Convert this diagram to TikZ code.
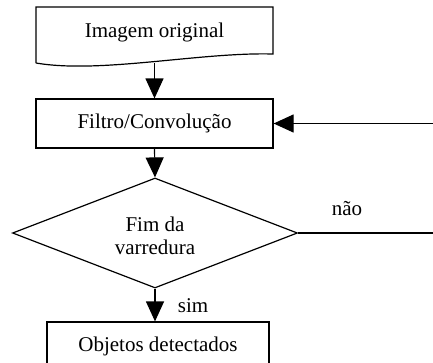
\documentclass[tikz,border=0pt]{standalone}
\usepackage{fontspec}
\setmainfont{Liberation Serif}
\usetikzlibrary{arrows.meta,shapes.geometric}

\tikzset{
  caixa/.style={draw, line width=1.2pt, rectangle, inner sep=0pt},
  seta/.style={line width=1.2pt, -{Triangle[length=20pt,width=18pt]}},
  linha/.style={line width=1.2pt}
}

\begin{document}
\begin{tikzpicture}[x=1pt,y=-1pt,font=\fontsize{21}{24}\selectfont]
      \path[use as bounding box, clip] (0,0) rectangle (433,362);
      % documento de entrada
      \draw [linha] (36,63) -- (36,7) -- (273,7) -- (273,54)
            .. controls (200,52) and (100,74) .. (36,63);
      \node (orig) at (154.5,32) {Imagem original};
      \coordinate (origbot) at (154.5,63);
      \node [caixa, minimum width=237pt, minimum height=49pt] (filtro) at (154.5,123.5) {Filtro/Convolução};
      \node [draw, linha, diamond, minimum width=285pt, minimum height=110pt, inner sep=0pt]
            (fim) at (155,233)
            {\raisebox{-11pt}[0pt][0pt]{\renewcommand\arraystretch{0.96}\begin{tabular}{@{}c@{}}Fim da\\varredura\end{tabular}}};
      \node [caixa, minimum width=222pt, minimum height=49pt] (obj) at (158,346.5) {Objetos detectados};
      \coordinate (volta) at (433,123.5);
      \coordinate (saida) at (433,233);
      \draw [seta] (origbot) -- (filtro.north);
      \draw [seta] (filtro.south) -- (fim.north);
      \draw [seta] (fim.south) -- (fim.south |- obj.north);
      \draw [seta] (volta) -- (filtro.east);
      \draw [linha] (fim.east) -- (saida);
      \node (nao) at (347,209) {não};
      \node (sim) at (193,306) {sim};
    \end{tikzpicture}
\end{document}
